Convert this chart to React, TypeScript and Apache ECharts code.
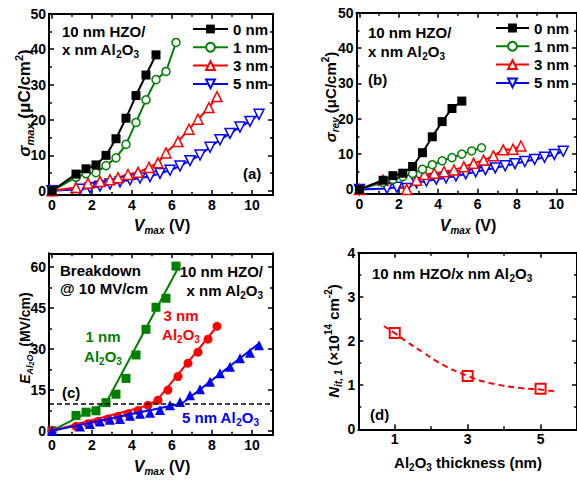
import React, { useEffect, useRef } from 'react';
import * as echarts from 'echarts';

const FONT = '"Liberation Sans", Arial, Helvetica, sans-serif';
const BLACK = '#000000';
const GREEN = '#008000';
const RED = '#ff0000';
const BLUE = '#0000ff';

const NAMES = ['0 nm', '1 nm', '3 nm', '5 nm'];

// ---- Panel (a): sigma_max vs V_max ----
const aV0 = [0, 1.2, 1.7, 2.2, 2.7, 3.2, 3.7, 4.2, 4.7, 5.2];
const aS0 = [0, 4.7, 6.2, 7.3, 10, 14.7, 20.5, 26.9, 32.7, 38.4];
const aV1 = [0, 1.2, 1.7, 2.2, 2.7, 3.2, 3.7, 4.2, 4.7, 5.2, 5.7, 6.2];
const aS1 = [0, 3.8, 4.8, 5.1, 7.1, 9.3, 13.1, 19.3, 25.7, 31.4, 33.7, 41.9];
const aV3 = [0, 1.2, 1.8, 2.4, 2.9, 3.3, 3.8, 4.3, 4.85, 5.3, 5.7, 6.3, 6.85, 7.3, 7.85, 8.25];
const aS3 = [0, 0.9, 2.1, 2.6, 3.1, 3.7, 4.6, 5.2, 6.6, 7.9, 10.7, 13.9, 17.4, 20.2, 23.5, 26.6];
const aV5 = [0, 1.4, 1.9, 2.4, 2.9, 3.4, 3.9, 4.4, 4.9, 5.4, 5.9, 6.4, 6.9, 7.4, 7.9, 8.4, 8.9, 9.4, 9.9, 10.35];
const aS5 = [0, 0.4, 0.8, 1.3, 1.9, 2.5, 3.1, 3.6, 4.0, 4.9, 5.8, 7.0, 8.5, 10.1, 12.3, 14.4, 16.2, 18.0, 19.6, 21.6];

// ---- Panel (b): sigma_rev vs V_max ----
const bV0 = [0, 1.2, 1.7, 2.2, 2.7, 3.2, 3.7, 4.2, 4.7, 5.2];
const bS0 = [0, 2.6, 3.9, 4.6, 6.5, 10.4, 14.9, 19.2, 22.9, 25.0];
const bV1 = [0, 1.2, 1.7, 2.2, 2.7, 3.2, 3.7, 4.2, 4.7, 5.2, 5.7, 6.2];
const bS1 = [0, 2.0, 2.8, 3.6, 4.5, 5.7, 7.0, 8.1, 9.0, 10.0, 10.9, 11.8];
const bV3 = [0, 1.2, 2.4, 2.9, 3.3, 3.8, 4.3, 4.8, 5.3, 5.8, 6.3, 6.8, 7.3, 7.8, 8.2];
const bS3 = [0, 2.6, 0, 2.6, 4.2, 4.6, 5.0, 5.5, 6.4, 7.4, 8.3, 9.5, 11.2, 11.4, 12.3];
const bV5 = [0, 1.4, 1.9, 2.4, 2.9, 3.4, 3.9, 4.4, 4.9, 5.4, 5.9, 6.4, 6.9, 7.4, 7.9, 8.4, 8.9, 9.4, 9.9, 10.35];
const bS5 = [0, 0.3, 0.6, 0.3, 1.9, 2.4, 2.9, 3.3, 3.8, 4.4, 5.0, 5.6, 6.1, 6.7, 7.3, 7.9, 8.5, 9.1, 9.9, 10.8];

// ---- Panel (c): E_Al2O3 vs V_max ----
const cV1 = [0, 1.2, 1.7, 2.2, 2.7, 3.2, 3.7, 4.2, 4.7, 5.2, 5.7, 6.2];
const cE1 = [0, 5.6, 6.8, 7.3, 10.3, 13.4, 19.2, 27.8, 37.2, 45.3, 48.6, 60.4];
const cV3 = [0, 1.2, 1.8, 2.3, 2.8, 3.3, 3.8, 4.3, 4.8, 5.3, 5.8, 6.3, 6.8, 7.3, 7.8, 8.25];
const cE3 = [0, 1.6, 2.6, 3.4, 4.3, 5.2, 6.2, 7.4, 9.3, 11.2, 14.9, 19.9, 24.8, 28.8, 33.6, 38.3];
const cV5 = [0, 1.4, 1.9, 2.4, 2.9, 3.4, 3.9, 4.4, 4.9, 5.4, 5.9, 6.4, 6.9, 7.4, 7.9, 8.4, 8.9, 9.4, 9.9, 10.35];
const cE5 = [0, 1.5, 2.5, 3.4, 4.0, 4.3, 5.5, 6.2, 6.6, 7.6, 9.3, 10.5, 13.0, 15.2, 18.0, 21.1, 23.5, 26.6, 28.6, 31.4];
const cFitV1 = [0, 2.7, 6.4];
const cFitE1 = [0, 10.2, 61];
const cFitV3 = [0, 4.8, 5.3, 8.3];
const cFitE3 = [0, 9.3, 11.6, 38.7];
const cFitV5 = [0, 6.5, 10.4];
const cFitE5 = [0, 10, 32.3];
const BREAKDOWN = 10;

// ---- Panel (d): N_it,1 vs Al2O3 thickness ----
const dT = [1, 3, 5];
const dN = [2.18, 1.21, 0.92];
const dFitT = [0.7, 1.0, 1.3, 1.8, 2.3, 3.0, 3.6, 4.5, 5.0, 5.4];
const dFitN = [2.34, 2.18, 2.0, 1.73, 1.47, 1.21, 1.05, 0.93, 0.9, 0.86];

// tick values
const vMajor = [0, 2, 4, 6, 8, 10];
const vMinor = [1, 3, 5, 7, 9];
const sMajor = [0, 10, 20, 30, 40, 50];
const sMinor = [5, 15, 25, 35, 45];
const eMajor = [0, 15, 30, 45, 60];
const eMinor = [7.5, 22.5, 37.5, 52.5];
const tMajor = [1, 3, 5];
const tMinor = [2, 4];
const nMajor = [0, 1, 2, 3, 4];
const nMinor = [0.5, 1.5, 2.5, 3.5];

const pts = (xs: number[], ys: number[]) => xs.map((x, i) => [x, ys[i]]);

const mk = (size: number, extra: any = {}) => ({
  fontFamily: FONT,
  fontWeight: 'bold',
  fontSize: size,
  ...extra,
});

const RICH15 = {
  n: mk(15, { lineHeight: 20 }),
  s: mk(10, { lineHeight: 10, verticalAlign: 'bottom' }),
};

const titleRich = (size: number) => {
  const sub = Math.round(size * 0.65);
  const lh = size + 5;
  return {
    n: mk(size, { lineHeight: lh }),
    i: mk(size, { lineHeight: lh, fontStyle: 'italic' }),
    s: mk(sub, { lineHeight: sub, verticalAlign: 'bottom' }),
    is: mk(sub, { lineHeight: sub, verticalAlign: 'bottom', fontStyle: 'italic' }),
    iss: mk(Math.round(size * 0.5), { lineHeight: Math.round(size * 0.42), verticalAlign: 'bottom', fontStyle: 'italic' }),
    sup: mk(sub, { lineHeight: sub, verticalAlign: 'top' }),
  };
};

const T = (x: number, y: number, text: string, o: any = {}) => ({
  type: 'text',
  x,
  y,
  rotation: o.rot || 0,
  silent: true,
  z: 100,
  style: {
    text,
    rich: o.rich || RICH15,
    fill: o.color || BLACK,
    align: o.align || 'left',
    verticalAlign: 'middle',
    fontFamily: FONT,
    fontSize: 15,
    fontWeight: 'bold',
  },
});

function makeAxes(dim: 'x' | 'y', g: number, min: number, max: number, major: number[], minor: number[]) {
  const posA = dim === 'x' ? 'bottom' : 'left';
  const posB = dim === 'x' ? 'top' : 'right';
  const base = {
    gridIndex: g,
    type: 'value',
    min,
    max,
    silent: true,
    splitLine: { show: false },
    minorTick: { show: false },
    minorSplitLine: { show: false },
  };
  const line = { show: true, onZero: false, lineStyle: { color: BLACK, width: 2 } };
  const noLine = { show: false, onZero: false };
  const tick = (vals: number[], len: number) => ({
    show: true,
    inside: true,
    length: len,
    customValues: vals,
    lineStyle: { color: BLACK, width: 1.5 },
  });
  const label = {
    show: true,
    customValues: major,
    color: BLACK,
    fontFamily: FONT,
    fontSize: 14,
    fontWeight: 'bold',
    margin: 3,
  };
  return [
    { ...base, position: posA, axisLine: line, axisTick: tick(major, 5), axisLabel: label },
    { ...base, position: posA, axisLine: noLine, axisTick: tick(minor, 3), axisLabel: { show: false } },
    { ...base, position: posB, axisLine: line, axisTick: tick(major, 5), axisLabel: { show: false } },
    { ...base, position: posB, axisLine: noLine, axisTick: tick(minor, 3), axisLabel: { show: false } },
  ];
}

// plot frames: [left, top, right edge, bottom edge] in px
const frames = [
  [49, 13.8, 273, 195],
  [356.5, 12.7, 580.5, 193.7],
  [49, 253.3, 273, 434.8],
  [358.3, 252.7, 578.3, 429.3],
];
const grids = frames.map(([l, t, r, b]) => ({
  left: l,
  top: t,
  right: 577 - r,
  bottom: 480 - b,
  containLabel: false,
  show: false,
}));

const xAxes = [
  ...makeAxes('x', 0, -0.15, 11.05, vMajor, vMinor),
  ...makeAxes('x', 1, -0.15, 11.05, vMajor, vMinor),
  ...makeAxes('x', 2, -0.15, 11.05, vMajor, vMinor),
  ...makeAxes('x', 3, 0, 6, tMajor, tMinor),
];
const yAxes = [
  ...makeAxes('y', 0, -1.2, 50, sMajor, sMinor),
  ...makeAxes('y', 1, -1.2, 50, sMajor, sMinor),
  ...makeAxes('y', 2, -1.5, 65.1, eMajor, eMinor),
  ...makeAxes('y', 3, 0, 4, nMajor, nMinor),
];

function lineSeries(p: number, name: string, xs: number[], ys: number[], color: string, kind: string) {
  const s: any = {
    type: 'line',
    name,
    xAxisIndex: p * 4,
    yAxisIndex: p * 4,
    data: pts(xs, ys),
    lineStyle: { color, width: 2 },
    emphasis: { disabled: true },
    clip: false,
  };
  if (kind === 'sq') {
    Object.assign(s, { symbol: 'rect', symbolSize: 9, itemStyle: { color, borderColor: color, borderWidth: 0 } });
  } else if (kind === 'ci') {
    Object.assign(s, { symbol: 'circle', symbolSize: 8, itemStyle: { color: '#ffffff', borderColor: color, borderWidth: 1.5 } });
  } else if (kind === 'up') {
    Object.assign(s, { symbol: 'triangle', symbolSize: 10, itemStyle: { color: '#ffffff', borderColor: color, borderWidth: 1.5 } });
  } else {
    Object.assign(s, {
      symbol: 'triangle',
      symbolRotate: 180,
      symbolSize: 10,
      itemStyle: { color: '#ffffff', borderColor: color, borderWidth: 1.5 },
    });
  }
  return s;
}

function fitSeries(p: number, xs: number[], ys: number[], color: string, extra: any = {}) {
  return {
    type: 'line',
    xAxisIndex: p * 4,
    yAxisIndex: p * 4,
    data: pts(xs, ys),
    symbol: 'none',
    lineStyle: { color, width: 2 },
    emphasis: { disabled: true },
    clip: false,
    ...extra,
  };
}

function scatterSeries(p: number, xs: number[], ys: number[], color: string, symbol: string, size: number, extra: any = {}) {
  return {
    type: 'scatter',
    xAxisIndex: p * 4,
    yAxisIndex: p * 4,
    data: pts(xs, ys),
    symbol,
    symbolSize: size,
    itemStyle: { color, opacity: 1 },
    emphasis: { disabled: true },
    clip: false,
    ...extra,
  };
}

const series: any[] = [
  // (a)
  lineSeries(0, '5 nm', aV5, aS5, BLUE, 'down'),
  lineSeries(0, '3 nm', aV3, aS3, RED, 'up'),
  lineSeries(0, '1 nm', aV1, aS1, GREEN, 'ci'),
  lineSeries(0, '0 nm', aV0, aS0, BLACK, 'sq'),
  // (b)
  lineSeries(1, '5 nm', bV5, bS5, BLUE, 'down'),
  lineSeries(1, '3 nm', bV3, bS3, RED, 'up'),
  lineSeries(1, '1 nm', bV1, bS1, GREEN, 'ci'),
  lineSeries(1, '0 nm', bV0, bS0, BLACK, 'sq'),
  // (c)
  fitSeries(2, cFitV1, cFitE1, GREEN),
  fitSeries(2, cFitV3, cFitE3, RED),
  fitSeries(2, cFitV5, cFitE5, BLUE, {
    markLine: {
      silent: true,
      symbol: 'none',
      label: { show: false },
      lineStyle: { color: BLACK, width: 1.5, type: [5, 3] },
      data: [{ yAxis: BREAKDOWN }],
    },
  }),
  scatterSeries(2, cV1, cE1, GREEN, 'rect', 9),
  scatterSeries(2, cV3, cE3, RED, 'circle', 9),
  scatterSeries(2, cV5, cE5, BLUE, 'triangle', 10),
  // (d)
  fitSeries(3, dFitT, dFitN, RED, { smooth: true, lineStyle: { color: RED, width: 2, type: [6, 4] } }),
  scatterSeries(3, dT, dN, RED, 'rect', 10, {
    itemStyle: { color: '#ffffff', borderColor: RED, borderWidth: 2, opacity: 1 },
  }),
];

const legendText = { color: BLACK, fontFamily: FONT, fontSize: 15, fontWeight: 'bold' };
const legends = [
  {
    left: 192,
    top: 21.5,
    orient: 'vertical',
    padding: 0,
    itemWidth: 35,
    itemHeight: 11,
    itemGap: 3.3,
    selectedMode: false,
    data: NAMES,
    textStyle: legendText,
  },
  {
    left: 495,
    top: 20.5,
    orient: 'vertical',
    padding: 0,
    itemWidth: 33,
    itemHeight: 11,
    itemGap: 3.3,
    selectedMode: false,
    data: NAMES,
    textStyle: legendText,
  },
];

const R90 = Math.PI / 2;
const graphics = [
  // axis titles
  T(24, 103, '{i|σ}{is|max}{n| (μC/cm}{sup|2}{n|)}', { rich: titleRich(17), rot: R90, align: 'center' }),
  T(330, 97, '{i|σ}{is|rev}{n| (μC/cm}{sup|2}{n|)}', { rich: titleRich(15), rot: R90, align: 'center' }),
  T(25, 338, '{i|E}{is|Al}{iss|2}{is|O}{iss|3}{n| (MV/cm)}', { rich: titleRich(14), rot: R90, align: 'center' }),
  T(333, 341, '{i|N}{is|it, 1}{n| (×10}{sup|14}{n| cm}{sup|-2}{n|)}', { rich: titleRich(15), rot: R90, align: 'center' }),
  T(162, 225, '{i|V}{is|max}{n| (V)}', { rich: titleRich(16), align: 'center' }),
  T(468, 225, '{i|V}{is|max}{n| (V)}', { rich: titleRich(16), align: 'center' }),
  T(162, 466, '{i|V}{is|max}{n| (V)}', { rich: titleRich(16), align: 'center' }),
  T(468, 462, '{n|Al}{s|2}{n|O}{s|3}{n| thickness (nm)}', { rich: titleRich(15), align: 'center' }),
  // panel a
  T(62, 31, '{n|10 nm HZO/}'),
  T(62, 49, '{n|x nm Al}{s|2}{n|O}{s|3}'),
  T(243, 173, '{n|(a)}'),
  // panel b
  T(368, 32, '{n|10 nm HZO/}'),
  T(368, 51, '{n|x nm Al}{s|2}{n|O}{s|3}'),
  T(368, 79, '{n|(b)}'),
  // panel c
  T(60, 270, '{n|Breakdown}'),
  T(60, 288, '{n|@ 10 MV/cm}'),
  T(263, 271, '{n|10 nm HZO/}', { align: 'right' }),
  T(263, 290, '{n|x nm Al}{s|2}{n|O}{s|3}', { align: 'right' }),
  T(103, 336, '{n|1 nm}', { color: GREEN, align: 'center' }),
  T(103, 356, '{n|Al}{s|2}{n|O}{s|3}', { color: GREEN, align: 'center' }),
  T(181, 315, '{n|3 nm}', { color: RED, align: 'center' }),
  T(181, 334, '{n|Al}{s|2}{n|O}{s|3}', { color: RED, align: 'center' }),
  T(182, 417, '{n|5 nm Al}{s|2}{n|O}{s|3}', { color: BLUE }),
  T(62, 392, '{n|(c)}'),
  // panel d
  T(372, 273, '{n|10 nm HZO/x nm Al}{s|2}{n|O}{s|3}'),
  T(370, 414, '{n|(d)}'),
];

const option: any = {
  animation: false,
  backgroundColor: '#ffffff',
  grid: grids,
  xAxis: xAxes,
  yAxis: yAxes,
  legend: legends,
  series,
  graphic: { elements: graphics },
};

export default function App() {
  const ref = useRef<HTMLDivElement>(null);
  useEffect(() => {
    if (!ref.current) return;
    const chart = echarts.init(ref.current, null, { renderer: 'svg', width: 577, height: 480 });
    chart.setOption(option);
    return () => {
      chart.dispose();
    };
  }, []);
  return (
    <div
      ref={ref}
      style={{ position: 'absolute', left: 0, top: 0, width: 577, height: 480, background: '#ffffff' }}
    />
  );
}
